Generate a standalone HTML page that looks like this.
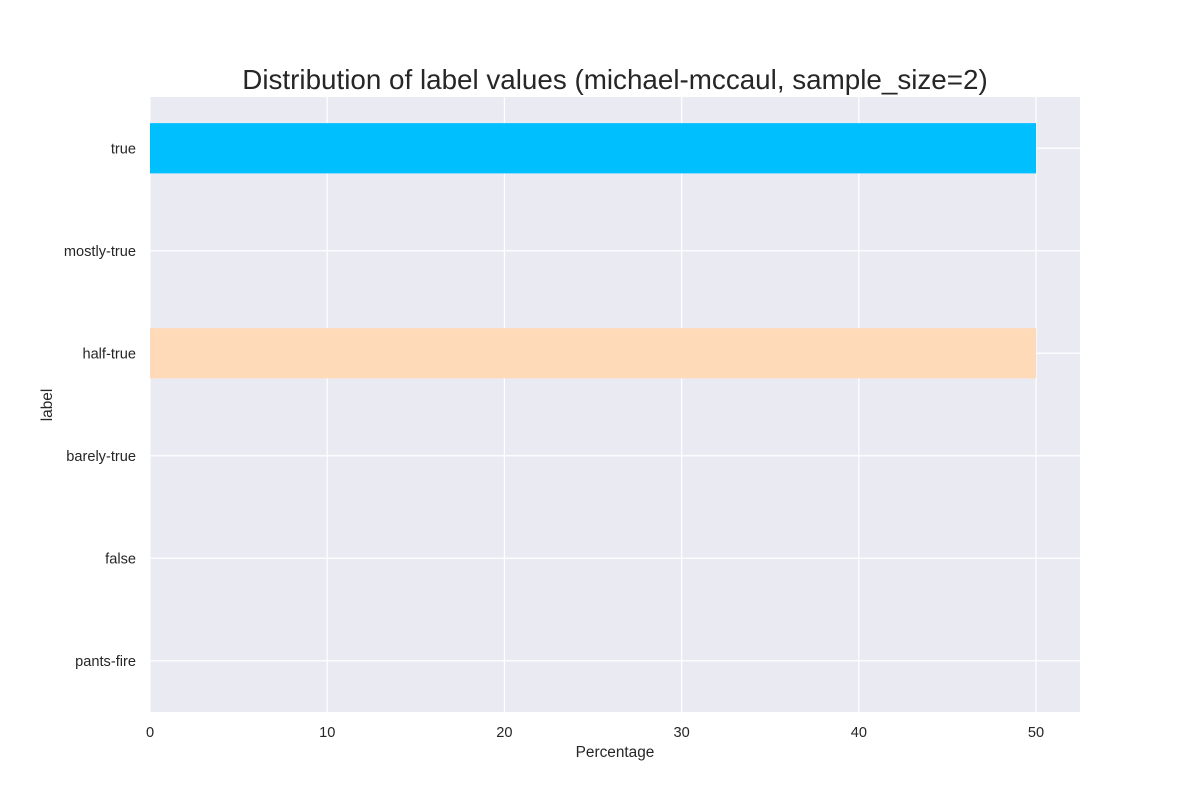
<!DOCTYPE html>
<html><head><meta charset="utf-8"><style>
body{margin:0;background:#fff;font-family:"Liberation Sans",sans-serif}
</style></head><body>
<svg width="1200" height="800" xmlns="http://www.w3.org/2000/svg" id="chart" font-family="Liberation Sans, sans-serif">
<text x="615" y="89" font-size="27.8" text-anchor="middle" fill="#262626">Distribution of label values (michael-mccaul, sample_size=2)</text>
<rect x="150" y="97" width="930" height="615" fill="#eaeaf2"/>
<g id="grid"></g><g id="bars"></g><g id="ticks"></g>
<text x="615" y="757" font-size="15.4" text-anchor="middle" fill="#262626">Percentage</text>
<text x="52" y="405" font-size="15.4" text-anchor="middle" fill="#262626" transform="rotate(-90 52 405)">label</text>
</svg>
<script>
const categories=["true","mostly-true","half-true","barely-true","false","pants-fire"];
const values=[50,0,50,0,0,0];
const colors=["#00bfff","#888","#ffdab9","#888","#888","#888"];
const xTicks=[0,10,20,30,40,50];
const NS="http://www.w3.org/2000/svg";
const x0=150,x1=1080,xmax=52.48,y0=97,y1=712;
const xs=v=>x0+v/xmax*(x1-x0);
const band=(y1-y0)/categories.length;
const ys=i=>y0+band*(i+0.5);
function mk(t,a,p){const e=document.createElementNS(NS,t);for(const k in a)e.setAttribute(k,a[k]);p.appendChild(e);return e;}
const g=document.getElementById('grid'),b=document.getElementById('bars'),tk=document.getElementById('ticks');
xTicks.forEach(v=>{
 const l=mk('line',{x1:xs(v),x2:xs(v),y1:y0,y2:y1,stroke:'#fff','stroke-width':1.2},g);
 
 
 const t=mk('text',{x:xs(v),y:737,'font-size':14.6,'text-anchor':'middle',fill:'#262626'},tk);
 t.textContent=v;
 
 
});
categories.forEach((c,i)=>{
 const l=mk('line',{x1:x0,x2:x1,y1:ys(i),y2:ys(i),stroke:'#fff','stroke-width':1.2},g);
 
 
 const t=mk('text',{x:136,y:ys(i)+5,'font-size':14.6,'text-anchor':'end',fill:'#262626'},tk);
 t.textContent=c;
 
 
 if(values[i]>0){
  const r=mk('rect',{x:xs(0),y:ys(i)-band*0.245,width:xs(values[i])-xs(0),height:band*0.49,fill:colors[i]},b);
  
  
 }
});
</script>
</body></html>
